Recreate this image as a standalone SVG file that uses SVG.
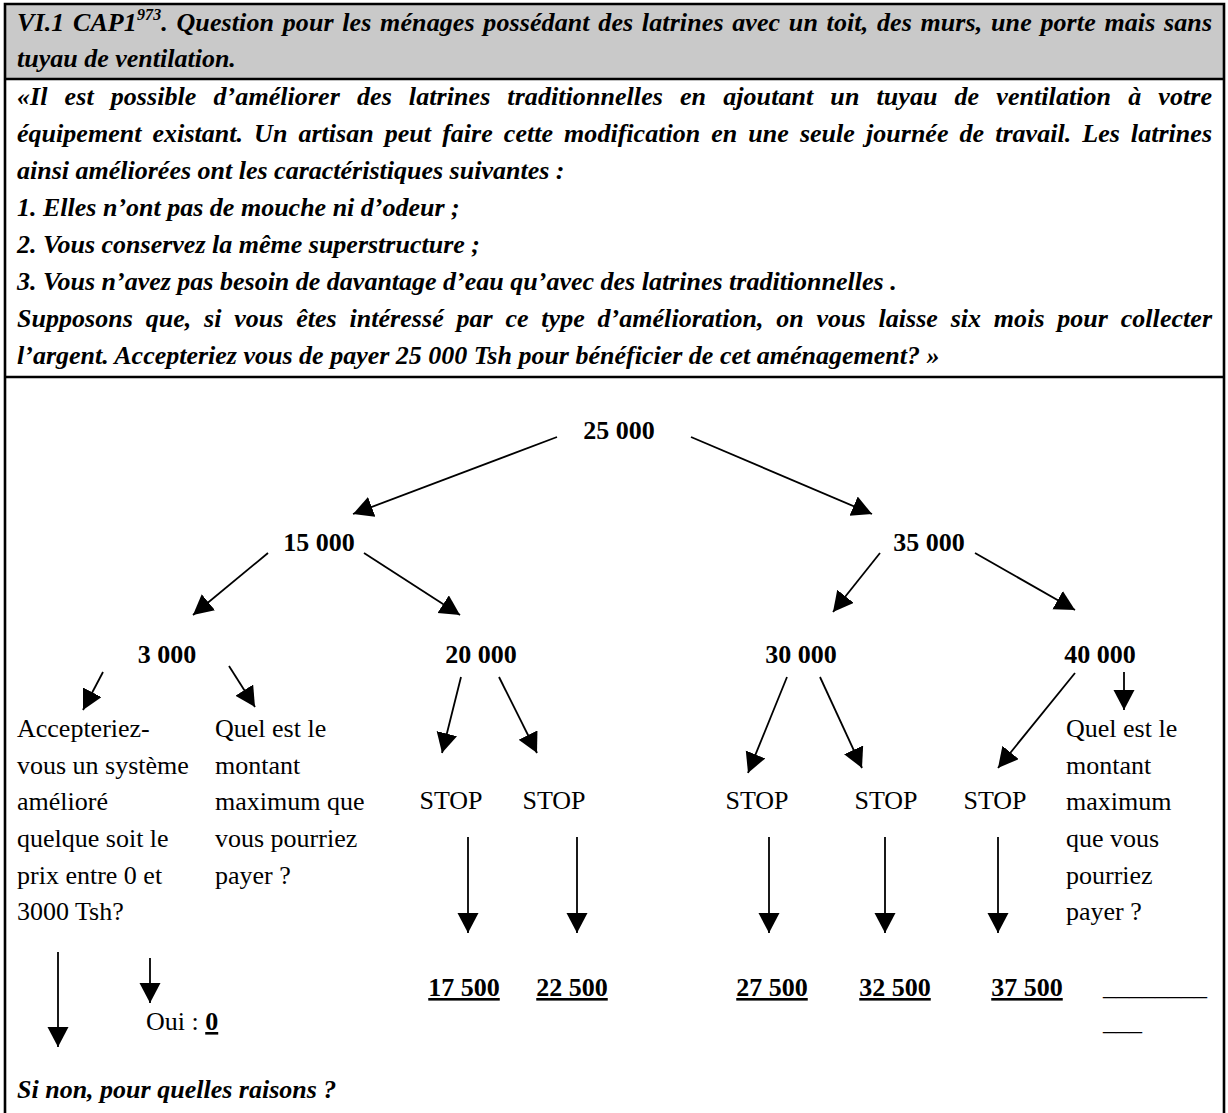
<svg xmlns="http://www.w3.org/2000/svg" width="1228" height="1113" viewBox="0 0 1228 1113">
  <style>
    text { font-family: "Liberation Serif", "Times New Roman", serif; font-size: 26px; fill: #000; }
    .bi { font-weight: bold; font-style: italic; }
    .b { font-weight: bold; }
    .u { text-decoration: underline; }
    .frame { fill: none; stroke: #000; stroke-width: 2.6; }
    .arrow { fill: none; stroke: #000; stroke-width: 1.8; marker-end: url(#head); }
  </style>
  <defs>
    <marker id="head" markerUnits="userSpaceOnUse" markerWidth="22" markerHeight="22" refX="20" refY="10.5" orient="auto">
      <path d="M0,0 L20,10.5 L0,21 Z" fill="#000"/>
    </marker>
  </defs>

  <rect width="1228" height="1113" fill="#fff"/>

  <!-- Heading band -->
  <g id="heading">
    <rect x="5" y="4" width="1219" height="75" fill="#c9c9c9"/>
    <text class="bi" x="17" y="31" word-spacing="2" textLength="1195" lengthAdjust="spacing">VI.1 CAP1<tspan dy="-11" font-size="16">973</tspan><tspan dy="11">. Question pour les ménages possédant des latrines avec un toit, des murs, une porte mais sans</tspan></text>
    <text class="bi" x="17" y="67">tuyau de ventilation.</text>
  </g>

  <!-- Question text (justified lines get extra word spacing) -->
  <g id="question">
    <text class="bi" x="17" y="105" word-spacing="10.5" textLength="1195" lengthAdjust="spacing">«Il est possible d’améliorer des latrines traditionnelles en ajoutant un tuyau de ventilation à votre</text>
    <text class="bi" x="17" y="142" word-spacing="4.5" textLength="1195" lengthAdjust="spacing">équipement existant. Un artisan peut faire cette modification en une seule journée de travail. Les latrines</text>
    <text class="bi" x="17" y="179">ainsi améliorées ont les caractéristiques suivantes :</text>
    <text class="bi" x="17" y="216">1. Elles n’ont pas de mouche ni d’odeur ;</text>
    <text class="bi" x="17" y="253">2. Vous conservez la même superstructure ;</text>
    <text class="bi" x="17" y="290">3. Vous n’avez pas besoin de davantage d’eau qu’avec des latrines traditionnelles .</text>
    <text class="bi" x="17" y="327" word-spacing="6.2" textLength="1195" lengthAdjust="spacing">Supposons que, si vous êtes intéressé par ce type d’amélioration, on vous laisse six mois pour collecter</text>
    <text class="bi" x="17" y="364">l’argent. Accepteriez vous de payer 25 000 Tsh pour bénéficier de cet aménagement? »</text>
  </g>

  <!-- Table frame -->
  <g id="frame">
    <path class="frame" d="M5,1113 V4 H1224 V1113"/>
    <line class="frame" x1="5" y1="79" x2="1224" y2="79"/>
    <line class="frame" x1="5" y1="377" x2="1224" y2="377"/>
  </g>

  <!-- Bid tree -->
  <g id="n25000"><text class="b" x="619" y="439" text-anchor="middle">25 000</text></g>
  <g id="n15000"><text class="b" x="319" y="551" text-anchor="middle">15 000</text></g>
  <g id="n35000"><text class="b" x="929" y="551" text-anchor="middle">35 000</text></g>
  <g id="n3000"><text class="b" x="167" y="663" text-anchor="middle">3 000</text></g>
  <g id="n20000"><text class="b" x="481" y="663" text-anchor="middle">20 000</text></g>
  <g id="n30000"><text class="b" x="801" y="663" text-anchor="middle">30 000</text></g>
  <g id="n40000"><text class="b" x="1100" y="663" text-anchor="middle">40 000</text></g>

  <g id="q-accept">
    <text x="17" y="737">Accepteriez-</text>
    <text x="17" y="774">vous un système</text>
    <text x="17" y="810">amélioré</text>
    <text x="17" y="847">quelque soit le</text>
    <text x="17" y="884">prix entre 0 et</text>
    <text x="17" y="920">3000 Tsh?</text>
  </g>
  <g id="q-max-low">
    <text x="215" y="737">Quel est le</text>
    <text x="215" y="774">montant</text>
    <text x="215" y="810">maximum que</text>
    <text x="215" y="847">vous pourriez</text>
    <text x="215" y="884">payer ?</text>
  </g>
  <g id="q-max-high">
    <text x="1066" y="737">Quel est le</text>
    <text x="1066" y="774">montant</text>
    <text x="1066" y="810">maximum</text>
    <text x="1066" y="847">que vous</text>
    <text x="1066" y="884">pourriez</text>
    <text x="1066" y="920">payer ?</text>
  </g>

  <g id="stop1"><text x="451" y="809" text-anchor="middle">STOP</text></g>
  <g id="stop2"><text x="554" y="809" text-anchor="middle">STOP</text></g>
  <g id="stop3"><text x="757" y="809" text-anchor="middle">STOP</text></g>
  <g id="stop4"><text x="886" y="809" text-anchor="middle">STOP</text></g>
  <g id="stop5"><text x="995" y="809" text-anchor="middle">STOP</text></g>

  <g id="v17500"><text class="b u" x="464" y="996" text-anchor="middle">17 500</text></g>
  <g id="v22500"><text class="b u" x="572" y="996" text-anchor="middle">22 500</text></g>
  <g id="v27500"><text class="b u" x="772" y="996" text-anchor="middle">27 500</text></g>
  <g id="v32500"><text class="b u" x="895" y="996" text-anchor="middle">32 500</text></g>
  <g id="v37500"><text class="b u" x="1027" y="996" text-anchor="middle">37 500</text></g>
  <g id="v-open">
    <text x="1103" y="995">________</text>
    <text x="1103" y="1030">___</text>
  </g>
  <g id="v-zero"><text x="146" y="1030">Oui : <tspan class="b u">0</tspan></text></g>
  <g id="reasons"><text class="bi" x="17" y="1098">Si non, pour quelles raisons ?</text></g>

  <!-- Connectors -->
  <g id="connectors">
    <line class="arrow" x1="557" y1="437" x2="353" y2="514"/>
    <line class="arrow" x1="691" y1="437" x2="872" y2="514"/>
    <line class="arrow" x1="268" y1="553" x2="193" y2="615"/>
    <line class="arrow" x1="364" y1="553" x2="460" y2="615"/>
    <line class="arrow" x1="880" y1="553" x2="833" y2="612"/>
    <line class="arrow" x1="975" y1="553" x2="1075" y2="610"/>
    <line class="arrow" x1="103" y1="672" x2="83" y2="710"/>
    <line class="arrow" x1="229" y1="666" x2="255" y2="707"/>
    <line class="arrow" x1="461" y1="677" x2="442" y2="753"/>
    <line class="arrow" x1="499" y1="677" x2="537" y2="753"/>
    <line class="arrow" x1="787" y1="677" x2="748" y2="773"/>
    <line class="arrow" x1="820" y1="677" x2="862" y2="768"/>
    <line class="arrow" x1="1075" y1="673" x2="998" y2="768"/>
    <line class="arrow" x1="1124" y1="672" x2="1124" y2="710"/>
    <line class="arrow" x1="468" y1="837" x2="468" y2="933"/>
    <line class="arrow" x1="577" y1="837" x2="577" y2="933"/>
    <line class="arrow" x1="769" y1="837" x2="769" y2="933"/>
    <line class="arrow" x1="885" y1="837" x2="885" y2="933"/>
    <line class="arrow" x1="998" y1="837" x2="998" y2="933"/>
    <line class="arrow" x1="58" y1="952" x2="58" y2="1047"/>
    <line class="arrow" x1="150" y1="958" x2="150" y2="1003"/>
  </g>
</svg>
